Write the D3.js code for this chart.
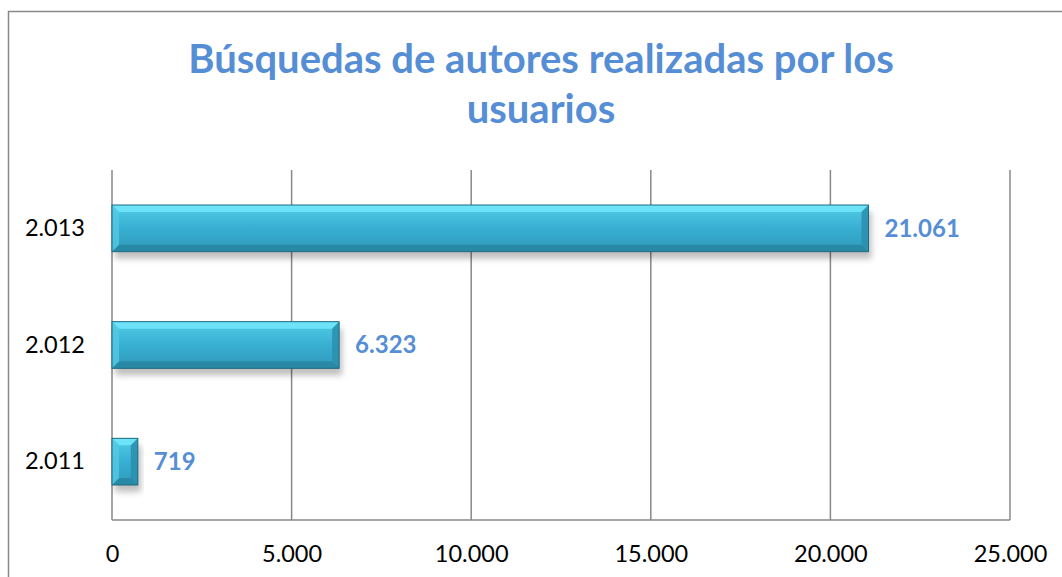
<!DOCTYPE html>
<html>
<head>
<meta charset="utf-8">
<script src="https://cdn.jsdelivr.net/npm/d3@7"></script>
<style>
  body { margin: 0; background: #fff; }
  text { font-family: Lato, "Open Sans", sans-serif; }
</style>
</head>
<body>
<div id="chart"></div>
<script>
// data
const years = ["2.011", "2.012", "2.013"];
const searches = [719, 6323, 21061];
const valueLabels = ["719", "6.323", "21.061"];
const xTicks = [0, 5000, 10000, 15000, 20000, 25000];
const xTickLabels = ["0", "5.000", "10.000", "15.000", "20.000", "25.000"];
const titleLines = ["Búsquedas de autores realizadas por los", "usuarios"];

let svgWidth = 1062, svgHeight = 577;
let margin = {top: 170, bottom: 57, left: 112, right: 52};
let width = svgWidth - margin.left - margin.right;
let height = svgHeight - margin.top - margin.bottom;

let svg = d3.select("#chart").append("svg")
    .attr("width", svgWidth).attr("height", svgHeight);

// gradients for bar
let defs = svg.append("defs");
let grad = defs.append("linearGradient").attr("id", "barGrad")
    .attr("x1", 0).attr("y1", 0).attr("x2", 0).attr("y2", 1);
grad.append("stop").attr("offset", "0%").attr("stop-color", "#52cde6");
grad.append("stop").attr("offset", "50%").attr("stop-color", "#38afd2");
grad.append("stop").attr("offset", "100%").attr("stop-color", "#3099b9");
let shadow = defs.append("filter").attr("id", "shadow")
    .attr("x", "-10%").attr("y", "-10%").attr("width", "120%").attr("height", "150%");
shadow.append("feGaussianBlur").attr("stdDeviation", 3);

// outer frame
svg.append("rect")
    .attr("x", 8.5).attr("y", 11.5)
    .attr("width", 1060).attr("height", 570)
    .attr("fill", "none").attr("stroke", "#888").attr("stroke-width", 1.5);

// title
svg.append("text")
    .attr("x", 541).attr("y", 73)
    .attr("text-anchor", "middle")
    .attr("font-size", "40px").attr("font-weight", "bold")
    .attr("fill", "#568ed6")
    .selectAll("tspan").data(titleLines).enter().append("tspan")
    .attr("x", 541).attr("dy", (d, i) => i === 0 ? 0 : 50)
    .text(d => d);

let g = svg.append("g").attr("transform", `translate(${margin.left},${margin.top})`);

let x = d3.scaleLinear().domain([0, 25000]).range([0, width]);
let y = d3.scaleBand().domain(years.slice().reverse()).range([0, height]).paddingInner(0.6).paddingOuter(0.3);

// gridlines
g.append("g").selectAll("line").data(xTicks).enter().append("line")
    .attr("x1", d => x(d)).attr("x2", d => x(d))
    .attr("y1", 0).attr("y2", height)
    .attr("stroke", "#888").attr("stroke-width", 1.5);
g.append("line")
    .attr("x1", 0).attr("x2", width).attr("y1", height).attr("y2", height)
    .attr("stroke", "#888").attr("stroke-width", 1.5);

// x axis labels
let xAxis = d3.axisBottom(x).tickValues(xTicks).tickSize(0).tickPadding(25)
    .tickFormat((d, i) => xTickLabels[i]);
let xg = g.append("g").attr("transform", `translate(0,${height})`).call(xAxis);
xg.select(".domain").remove();
xg.selectAll("text").attr("font-size", "23.5px").attr("fill", "#000")
    .style("font-family", "Lato, 'Open Sans', sans-serif");

// y axis labels
let yAxis = d3.axisLeft(y).tickSize(0).tickPadding(27);
let yg = g.append("g").call(yAxis);
yg.select(".domain").remove();
yg.selectAll("text").attr("font-size", "23.5px").attr("fill", "#000")
    .style("font-family", "Lato, 'Open Sans', sans-serif");

// bars
let data = years.map((yr, i) => ({year: yr, value: searches[i], label: valueLabels[i]}));
let bars = g.selectAll(".bar").data(data).enter().append("g").attr("class", "bar");
const bv = 7;

bars.append("rect")
    .attr("x", 3).attr("y", d => y(d.year) + 7)
    .attr("width", d => x(d.value))
    .attr("height", y.bandwidth())
    .attr("fill", "#000").attr("opacity", 0.25)
    .attr("filter", "url(#shadow)");
bars.append("rect")
    .attr("x", 0).attr("y", d => y(d.year))
    .attr("width", d => x(d.value))
    .attr("height", y.bandwidth())
    .attr("fill", "url(#barGrad)");
// top bevel
bars.append("polygon")
    .attr("points", d => {
        let x0 = 0, x1 = x(d.value), y0 = y(d.year);
        let b = Math.min(bv, (x1 - x0) / 2);
        return [[x0, y0], [x1, y0], [x1 - b, y0 + bv], [x0 + b, y0 + bv]].join(" ");
    })
    .attr("fill", "#72e8fc").attr("opacity", 0.85);
// bottom bevel
bars.append("polygon")
    .attr("points", d => {
        let x0 = 0, x1 = x(d.value), y1 = y(d.year) + y.bandwidth();
        let b = Math.min(bv, (x1 - x0) / 2);
        return [[x0, y1], [x1, y1], [x1 - b, y1 - bv], [x0 + b, y1 - bv]].join(" ");
    })
    .attr("fill", "#26849f").attr("opacity", 0.8);
// left bevel
bars.append("polygon")
    .attr("points", d => {
        let x0 = 0, x1 = x(d.value), y0 = y(d.year), y1 = y0 + y.bandwidth();
        let b = Math.min(bv, (x1 - x0) / 2);
        return [[x0, y0], [x0 + b, y0 + bv], [x0 + b, y1 - bv], [x0, y1]].join(" ");
    })
    .attr("fill", "#52cbe6").attr("opacity", 0.8);
// right bevel
bars.append("polygon")
    .attr("points", d => {
        let x0 = 0, x1 = x(d.value), y0 = y(d.year), y1 = y0 + y.bandwidth();
        let b = Math.min(bv, (x1 - x0) / 2);
        return [[x1, y0], [x1 - b, y0 + bv], [x1 - b, y1 - bv], [x1, y1]].join(" ");
    })
    .attr("fill", "#2a8fad").attr("opacity", 0.85);
bars.append("rect")
    .attr("x", 0).attr("y", d => y(d.year))
    .attr("width", d => x(d.value))
    .attr("height", y.bandwidth())
    .attr("fill", "none").attr("stroke", "#1f6a80").attr("stroke-width", 1);

// value labels
bars.append("text")
    .attr("x", d => x(d.value) + 16)
    .attr("y", d => y(d.year) + y.bandwidth() / 2)
    .attr("dy", "0.35em")
    .attr("font-size", "24px").attr("font-weight", "bold")
    .attr("fill", "#568ed6")
    .text(d => d.label);
</script>
</body>
</html>
